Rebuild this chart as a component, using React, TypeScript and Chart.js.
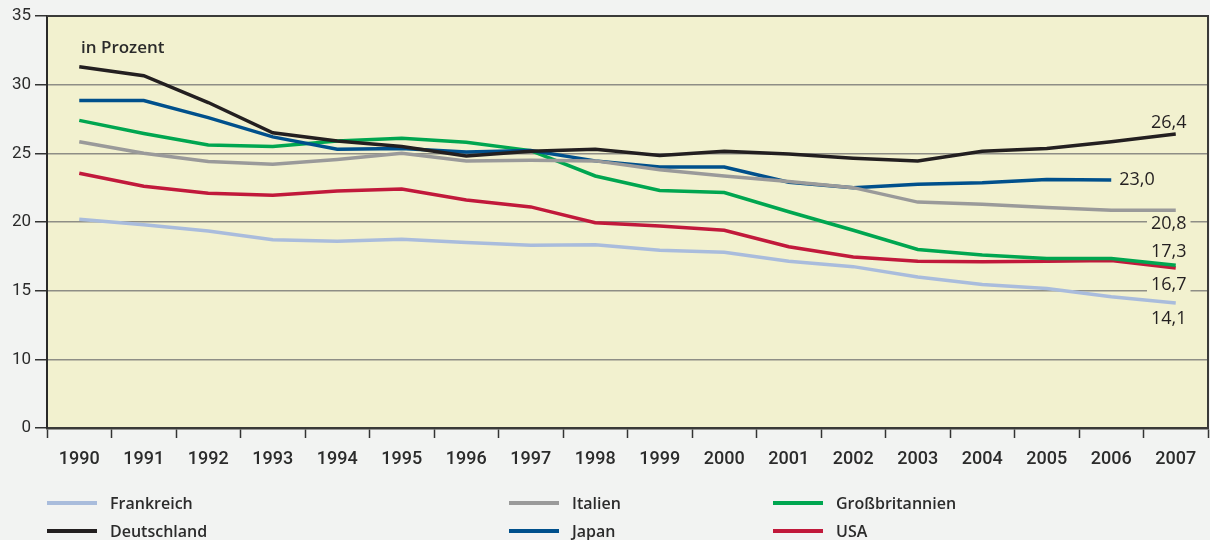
import React, { useEffect, useRef } from "react";
import { Chart, registerables } from "chart.js";

Chart.register(...registerables);

const years = ["1990","1991","1992","1993","1994","1995","1996","1997","1998","1999","2000","2001","2002","2003","2004","2005","2006","2007"];

const frankreich = [20.2,19.8,19.35,18.7,18.6,18.75,18.5,18.3,18.35,17.95,17.8,17.15,16.75,16.0,15.45,15.15,14.55,14.1];
const deutschland = [31.3,30.65,28.7,26.5,25.9,25.5,24.8,25.15,25.3,24.85,25.15,24.95,24.65,24.45,25.15,25.35,25.85,26.4];
const italien = [25.85,25.0,24.4,24.2,24.55,25.0,24.45,24.5,24.45,23.8,23.35,22.95,22.5,21.45,21.3,21.05,20.85,20.85];
const grossbritannien = [27.4,26.45,25.6,25.5,25.9,26.1,25.8,25.2,23.35,22.3,22.15,20.75,19.4,18.0,17.6,17.35,17.35,16.85];
const japan = [28.85,28.85,27.6,26.2,25.3,25.35,25.1,25.2,24.45,24.0,24.0,22.9,22.5,22.75,22.85,23.1,23.05,null];
const usa = [23.55,22.6,22.1,21.95,22.25,22.4,21.6,21.1,19.95,19.7,19.4,18.2,17.45,17.15,17.1,17.15,17.2,16.65];

const yTickValues = [0, 10, 15, 20, 25, 30, 35];

const seriesNames = ["Frankreich", "Deutschland", "Italien", "Japan", "Großbritannien", "USA"];
const seriesColors = ["#a9bcdc", "#231f20", "#9a9a9a", "#00508c", "#00a650", "#c1193b"];
const seriesData = [frankreich, deutschland, italien, japan, grossbritannien, usa];

// end labels: series index, year index, text
const endLabelSeries = [1, 3, 2, 4, 5, 0];
const endLabelYear = [17, 16, 17, 17, 17, 17];
const endLabelText = ["26,4", "23,0", "20,8", "17,3", "16,7", "14,1"];

// broken axis: 0..10 compressed to one interval, then 5 per interval
const toAxis = (v: number | null) => (v == null ? null : v >= 10 ? v - 5 : v / 2);
const fromAxis = (t: number) => (t <= 5 ? t * 2 : t + 5);

const legendOrder = [
  { i: 0, x: 47, y: 503 },
  { i: 1, x: 47, y: 531 },
  { i: 2, x: 509, y: 503 },
  { i: 3, x: 509, y: 531 },
  { i: 4, x: 773, y: 503 },
  { i: 5, x: 773, y: 531 },
];

const FONT = "'Open Sans', 'Noto Sans', sans-serif";
const TICKFONT = "Roboto, 'Open Sans', sans-serif";

export default function App() {
  const ref = useRef<HTMLCanvasElement | null>(null);

  useEffect(() => {
    if (!ref.current) return;
    const bgPlugin = {
      id: "bgPlugin",
      beforeDraw(chart: any) {
        const { ctx, chartArea: a } = chart;
        ctx.save();
        ctx.fillStyle = "#f2f1cf";
        ctx.fillRect(a.left, a.top, a.right - a.left, a.bottom - a.top);
        ctx.restore();
      },
      afterDatasetsDraw(chart: any) {
        const { ctx, chartArea: a } = chart;
        ctx.save();
        // top and right border
        ctx.strokeStyle = "#3a3a38";
        ctx.lineWidth = 2;
        ctx.beginPath();
        ctx.moveTo(a.left, a.top);
        ctx.lineTo(a.right, a.top);
        ctx.lineTo(a.right, a.bottom);
        ctx.stroke();
        // title text
        ctx.fillStyle = "#2b2b2b";
        ctx.font = `600 17px ${FONT}`;
        ctx.textAlign = "left";
        ctx.textBaseline = "middle";
        ctx.fillText("in Prozent", a.left + 34, a.top + 32);
        // end labels
        ctx.font = `18px ${FONT}`;
        const offsets: Record<number, [number, number, string, boolean]> = {
          0: [-7, -11, "center", false],
          1: [8, 0, "left", false],
          2: [-7, 14, "center", true],
          3: [-7, -13, "center", false],
          4: [-7, 17, "center", true],
          5: [-7, 16, "center", false],
        };
        endLabelText.forEach((txt, k) => {
          const s = endLabelSeries[k];
          const meta = chart.getDatasetMeta(s);
          const pt = meta.data[endLabelYear[k]];
          if (!pt) return;
          const [dx, dy, align, box] = offsets[k];
          const x = pt.x + dx;
          const y = pt.y + dy;
          ctx.textAlign = align as CanvasTextAlign;
          ctx.textBaseline = "middle";
          if (box) {
            const w = ctx.measureText(txt).width;
            const left = align === "center" ? x - w / 2 : x;
            ctx.fillStyle = "#f2f1cf";
            ctx.fillRect(left - 4, y - 10, w + 8, 20);
          }
          ctx.fillStyle = "#231f20";
          ctx.fillText(txt, x, y);
        });
        ctx.restore();
      },
    };

    const chart = new Chart(ref.current, {
      type: "line",
      data: {
        labels: years,
        datasets: seriesData.map((d, i) => ({
          label: seriesNames[i],
          data: d.map(toAxis),
          borderColor: seriesColors[i],
          backgroundColor: seriesColors[i],
          borderWidth: 3.5,
          pointRadius: 0,
          tension: 0,
          spanGaps: false,
        })),
      },
      options: {
        animation: false,
        responsive: false,
        maintainAspectRatio: false,
        layout: { padding: { top: 16, right: 2, left: 0, bottom: 0 } },
        plugins: { legend: { display: false }, tooltip: { enabled: false } },
        scales: {
          x: {
            type: "category",
            offset: true,
            grid: {
              offset: true,
              drawOnChartArea: false,
              drawTicks: true,
              tickLength: 10,
              tickColor: "#333",
              tickWidth: 1.5,
            },
            border: { display: true, color: "#3a3a38", width: 2.5 },
            ticks: {
              color: "#2b2b2b",
              font: { family: TICKFONT, size: 18, weight: 500 },
              padding: 11,
              maxRotation: 0,
              autoSkip: false,
            },
            afterFit(scale: any) {
              scale.height = 112;
            },
          },
          y: {
            min: 0,
            max: 30,
            afterBuildTicks(scale: any) {
              scale.ticks = yTickValues.map((v) => ({ value: toAxis(v) as number }));
            },
            grid: {
              color: "#8e8e86",
              lineWidth: 1.5,
              drawTicks: true,
              tickLength: 12,
              tickColor: "#333",
              tickWidth: 1.5,
            },
            border: { display: true, color: "#2a2a28", width: 2 },
            ticks: {
              color: "#2b2b2b",
              font: { family: TICKFONT, size: 17 },
              padding: 4,
              callback: (v: any) => String(Math.round(fromAxis(Number(v)))),
            },
            afterFit(scale: any) {
              scale.width = 47;
            },
          },
        },
      },
      plugins: [bgPlugin],
    } as any);
    return () => chart.destroy();
  }, []);

  return (
    <div style={{ position: "fixed", left: 0, top: 0, width: 1210, height: 540, background: "#f2f3f2", fontFamily: FONT }}>
      <canvas ref={ref} width={1210} height={540} style={{ position: "absolute", left: 0, top: 0 }} />
      {legendOrder.map((l) => (
        <div key={l.i} style={{ position: "absolute", left: l.x, top: l.y - 12, height: 24, display: "flex", alignItems: "center" }}>
          <div style={{ width: 50, height: 4, background: seriesColors[l.i], marginRight: 13 }} />
          <span style={{ fontSize: 16, fontWeight: 600, color: "#2b2b2b" }}>{seriesNames[l.i]}</span>
        </div>
      ))}
    </div>
  );
}
